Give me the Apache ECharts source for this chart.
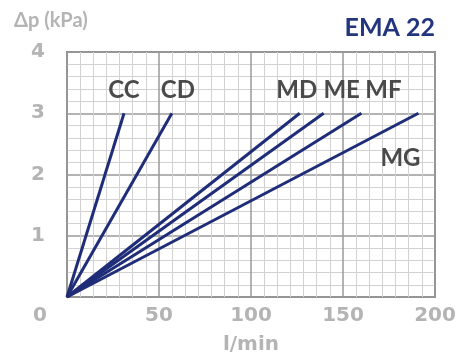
<!DOCTYPE html>
<html><head><meta charset="utf-8">
<script src="https://cdn.jsdelivr.net/npm/echarts@6/dist/echarts.min.js"></script>
<style>html,body{margin:0;padding:0;background:#fff}#c{width:475px;height:358px}</style>
</head><body><div id="c"></div>
<script>
const seriesNames = ['CC', 'CD', 'MD', 'ME', 'MF', 'MG'];
const flowAt3kPa = [31, 57, 126.5, 139.5, 160, 191];
const pressureEnd = 3;
const xTicks = [0, 50, 100, 150, 200];
const yTicks = [0, 1, 2, 3, 4];
const labelOffsets = [[0, -6], [6, -6], [-3, -6], [18, -6], [22, -6], [-18, 62]];

const navy = '#1f2d78';
const grayTxt = '#b4b4b4';
const numFont = 'DejaVu Sans';

const series = seriesNames.map((n, i) => ({
  name: n, type: 'line', symbol: 'circle', symbolSize: 0.01, showSymbol: true, silent: true,
  itemStyle: { color: navy },
  lineStyle: { color: navy, width: 3 },
  data: [
    { value: [0, 0], label: { show: false } },
    { value: [flowAt3kPa[i], pressureEnd],
      label: { show: true, formatter: n, position: 'top', offset: labelOffsets[i],
        color: '#4a4a4a', fontFamily: 'Lato', fontWeight: 'bold', fontSize: 24 } }
  ]
}));

const chart = echarts.init(document.getElementById('c'), null, { renderer: 'canvas' });
chart.setOption({
  animation: false,
  backgroundColor: '#fff',
  title: [
    { text: 'Δp (kPa)', left: 9, top: 6, textStyle: { color: grayTxt, fontFamily: 'Lato', fontWeight: 'bold', fontSize: 20 } },
    { text: 'EMA 22', right: 35, top: 10, textStyle: { color: '#243580', fontFamily: 'Lato', fontWeight: 'bold', fontSize: 25 } }
  ],
  grid: { left: 67, right: 40, top: 52, bottom: 61, show: true, borderColor: '#888', borderWidth: 2,
    backgroundColor: 'transparent', outerBoundsMode: 'none', containLabel: false },
  xAxis: {
    type: 'value', min: xTicks[0], max: xTicks[xTicks.length - 1], interval: 50,
    name: 'l/min', nameLocation: 'middle', nameGap: 38,
    nameTextStyle: { color: grayTxt, fontFamily: numFont, fontWeight: 'bold', fontSize: 20 },
    axisLine: { show: false }, axisTick: { show: false },
    axisLabel: { margin: 9, color: grayTxt, fontFamily: numFont, fontWeight: 'bold', fontSize: 20,
      formatter: v => v === 0 ? '{z|0}' : String(v),
      rich: { z: { color: grayTxt, fontFamily: numFont, fontWeight: 'bold', fontSize: 20, padding: [0, 54, 0, 0] } } },
    splitLine: { show: true, lineStyle: { color: '#9a9a9a', width: 1.5 } },
    minorTick: { show: false, splitNumber: 7 },
    minorSplitLine: { show: true, lineStyle: { color: '#d2d2d2', width: 1 } }
  },
  yAxis: {
    type: 'value', min: yTicks[0], max: yTicks[yTicks.length - 1], interval: 1,
    axisLine: { show: false }, axisTick: { show: false },
    axisLabel: { margin: 22, color: grayTxt, fontFamily: numFont, fontWeight: 'bold', fontSize: 20,
      formatter: v => v === 0 ? '' : String(v) },
    splitLine: { show: true, lineStyle: { color: '#9a9a9a', width: 1.5 } },
    minorTick: { show: false, splitNumber: 5 },
    minorSplitLine: { show: true, lineStyle: { color: '#d2d2d2', width: 1 } }
  },
  series: series
});
</script></body></html>
